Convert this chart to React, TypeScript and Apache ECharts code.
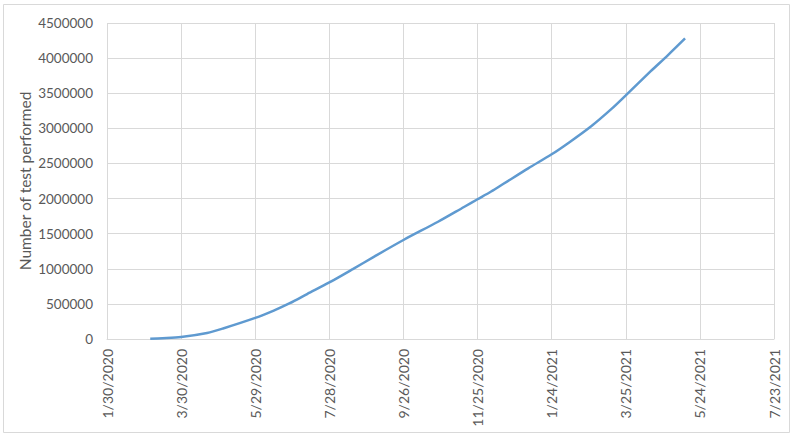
import React, { useEffect, useRef } from "react";
import * as echarts from "echarts";

const dates = [
  "3/5/2020", "3/15/2020", "3/30/2020", "4/20/2020", "5/3/2020", "5/29/2020", "6/13/2020",
  "6/26/2020", "7/10/2020", "7/28/2020", "8/16/2020", "9/2/2020", "9/26/2020",
  "10/24/2020", "11/14/2020", "11/25/2020", "12/6/2020", "12/16/2020", "1/5/2021",
  "1/24/2021", "2/8/2021", "2/25/2021", "3/13/2021", "3/25/2021", "4/14/2021",
  "4/28/2021", "5/12/2021",
];
const tests = [
  5000, 12000, 29000, 86000, 150000, 300000, 405000,
  510000, 640000, 805000, 995000, 1170000, 1410000,
  1670000, 1880000, 1990000, 2100000, 2210000, 2430000,
  2630000, 2810000, 3030000, 3270000, 3470000, 3810000,
  4040000, 4280000,
];
const yAxisTitle = "Number of test performed";
const xStart = "1/30/2020";
const xSpanDays = 540;
const xTickDays = 60;
const yTicks = [0, 500000, 1000000, 1500000, 2000000, 2500000, 3000000, 3500000, 4000000, 4500000];

const DAY = 86400000;
function parseDate(s: string): number {
  const [m, d, y] = s.split("/").map(Number);
  return Date.UTC(y, m - 1, d);
}
const origin = parseDate(xStart);
function dayOffset(s: string): number {
  return Math.round((parseDate(s) - origin) / DAY);
}
function fmtDay(v: number): string {
  const dt = new Date(origin + v * DAY);
  return `${dt.getUTCMonth() + 1}/${dt.getUTCDate()}/${dt.getUTCFullYear()}`;
}

export default function App() {
  const ref = useRef<HTMLDivElement>(null);
  useEffect(() => {
    if (!ref.current) return;
    const chart = echarts.init(ref.current, undefined, { renderer: "svg" });
    const font = "Lato, 'Open Sans', sans-serif";
    chart.setOption({
      animation: false,
      backgroundColor: "#ffffff",
      graphic: [
        {
          type: "rect",
          shape: { x: 3.5, y: 4.5, width: 786, height: 428 },
          style: { fill: "none", stroke: "#d9d9d9", lineWidth: 1 },
          silent: true,
        },
        {
          type: "text",
          x: 25,
          y: 181,
          rotation: Math.PI / 2,
          silent: true,
          style: {
            text: yAxisTitle,
            fill: "#595959",
            font: `15.5px ${font}`,
            align: "center",
            verticalAlign: "middle",
          },
        },
      ],
      grid: { left: 107, right: 20, top: 23, bottom: 99, containLabel: false },
      xAxis: {
        type: "value",
        min: 0,
        max: xSpanDays,
        interval: xTickDays,
        axisLine: { show: true, lineStyle: { color: "#d9d9d9", width: 1 } },
        axisTick: { show: false },
        splitLine: { show: true, lineStyle: { color: "#d9d9d9", width: 1 } },
        axisLabel: {
          rotate: 90,
          margin: 10,
          color: "#595959",
          fontFamily: font,
          fontSize: 14,
          formatter: (v: number) => fmtDay(v),
          showMinLabel: true,
          showMaxLabel: true,
        },
      },
      yAxis: {
        type: "value",
        min: yTicks[0],
        max: yTicks[yTicks.length - 1],
        interval: yTicks[1] - yTicks[0],
        axisLine: { show: false },
        axisTick: { show: false },
        splitLine: { show: true, lineStyle: { color: "#d9d9d9", width: 1 } },
        axisLabel: {
          margin: 14,
          color: "#595959",
          fontFamily: font,
          fontSize: 13.5,
          formatter: (v: number) => String(v),
        },
      },
      series: [
        {
          type: "line",
          data: dates.map((d, i) => [dayOffset(d), tests[i]]),
          showSymbol: false,
          smooth: 0.3,
          lineStyle: { color: "#5f9ad0", width: 2.5 },
        },
      ],
    });
    return () => chart.dispose();
  }, []);
  return (
    <div
      ref={ref}
      style={{ position: "absolute", left: 0, top: 0, width: 794, height: 438 }}
    />
  );
}
